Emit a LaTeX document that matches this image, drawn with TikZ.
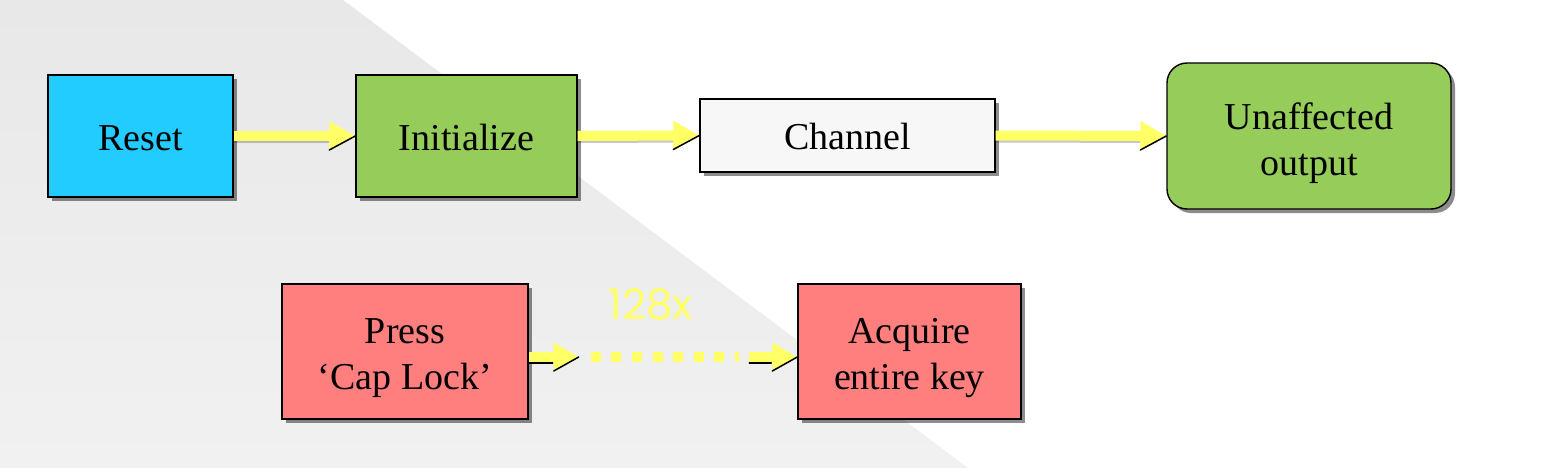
\documentclass[tikz,border=0pt]{standalone}
\usepackage{fontspec}
\setmainfont{Liberation Serif}
\newfontfamily\gothic{Poppins}
\usetikzlibrary{arrows.meta,shadows,calc}
\definecolor{bgtop}{HTML}{E8E8E8}
\definecolor{bgbot}{HTML}{F1F1F1}
\definecolor{cyanbox}{HTML}{22CCFF}
\definecolor{greenbox}{HTML}{96CC5A}
\definecolor{redbox}{HTML}{FF7F7F}
\definecolor{whitebox}{HTML}{F7F7F7}
\definecolor{yel}{HTML}{FFFF66}
\newcommand\boxtext[2][-5pt]{\raisebox{#1}[\height][\depth]{\begin{tabular}{@{}c@{}}#2\end{tabular}}}
\begin{document}
\begin{tikzpicture}[x=1pt,y=-1pt,
  box/.style={draw=black,line width=1.4pt,inner sep=0pt,
    font=\fontsize{38}{46}\selectfont,
    drop shadow={shadow xshift=4pt,shadow yshift=-4pt,fill=black,opacity=0.45}},
  yshaft/.style={draw=yel,line width=10pt,-{Triangle[length=26pt,width=28pt]},
    preaction={draw=black,opacity=0.22,line width=10pt,-,shorten >=26pt,
      transform canvas={yshift=-2pt}}},
  yshafts/.style={draw=yel,line width=10pt,-{Triangle[length=25pt,width=27pt]}},
  tipedge/.style={draw=black,line width=1.5pt,line cap=round},
  ydots/.style={draw=yel,line width=10pt,dash pattern=on 10pt off 10.6pt}
]
% background
\useasboundingbox (0,0) rectangle (1554,468);
\fill[white] (0,0) rectangle (1554,468);
\shade[top color=bgtop,bottom color=bgbot] (0,0) -- (343,0) -- (968,468) -- (0,468) -- cycle;

% boxes
\node[box,fill=cyanbox,minimum width=185pt,minimum height=122pt] (r) at (140.5,136) {\boxtext{Reset}};
\node[box,fill=greenbox,minimum width=221pt,minimum height=122pt] (i) at (466.5,136) {\boxtext{Initialize}};
\node[box,fill=whitebox,minimum width=295pt,minimum height=73pt] (c) at (847.5,135.5) {\boxtext{Channel}};
\node[box,fill=greenbox,rounded corners=20pt,minimum width=284pt,minimum height=146pt] (u) at (1309,136) {\boxtext[-7pt]{Unaffected\\output}};
\node[box,fill=redbox,minimum width=246pt,minimum height=135pt] (p) at (405,351.5) {\boxtext[-6pt]{Press\\`Cap Lock'}};
\node[box,fill=redbox,minimum width=223pt,minimum height=135pt] (a) at (909.5,351.5) {\boxtext[-6pt]{Acquire\\entire key}};

% top arrows
\draw[yshaft] (r.east) -- (i.west);
\draw[tipedge] (i.west) -- ++(-26,14);
\draw[yshaft] (i.east) -- (c.west);
\draw[tipedge] (c.west) -- ++(-26,14);
\draw[yshaft] (c.east) -- (u.west);
\draw[tipedge] (u.west) -- ++(-26,14);

% bottom connector
\coordinate (ps) at ($(p.east)+(0,5.5)$);
\coordinate (at) at ($(a.west)+(0,5.5)$);
\coordinate (t1) at ($(ps)+(50,0)$);
\coordinate (d1) at ($(ps)+(62,0)$);
\coordinate (d2) at ($(ps)+(210,0)$);
\coordinate (s2) at ($(at)+(-48,0)$);
\draw[tipedge] ($(ps)+(0,6)$) -- ($(ps)+(24,6)$);
\draw[yshafts] (ps) -- (t1);
\draw[tipedge] (t1) -- ++(-25,14);
\draw[ydots] (d1) -- (d2);
\draw[tipedge] ($(s2)+(0,6)$) -- ($(s2)+(22,6)$);
\draw[yshafts] (s2) -- (at);
\draw[tipedge] (at) -- ++(-25,14);
\node[text=yel,font=\gothic\fontsize{42}{42}\selectfont,inner sep=0pt] (lbl) at (651,304) {128x};
\end{tikzpicture}
\end{document}
